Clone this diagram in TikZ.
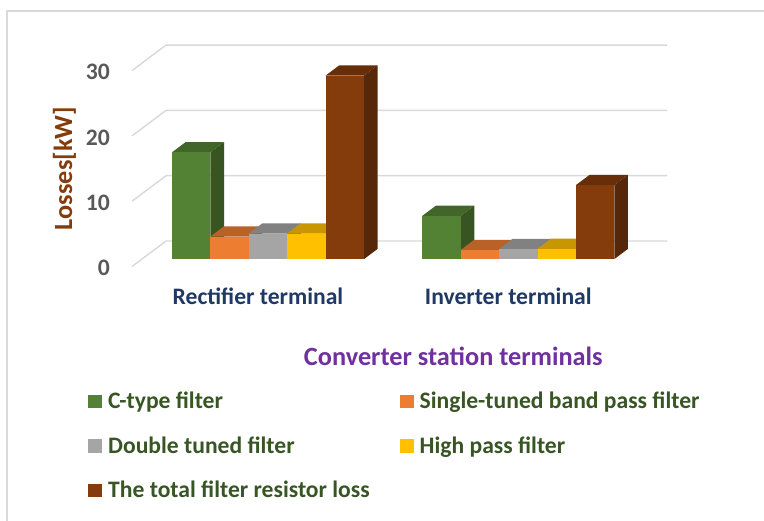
\documentclass[tikz,border=0pt]{standalone}
\usepackage{fontspec}
\setmainfont{Carlito}
\definecolor{cGreen}{HTML}{548235}
\definecolor{cOrange}{HTML}{ED7D31}
\definecolor{cGray}{HTML}{A5A5A5}
\definecolor{cYellow}{HTML}{FFC000}
\definecolor{cBrown}{HTML}{843C0C}
\definecolor{gridc}{HTML}{D9D9D9}
\definecolor{tickc}{HTML}{595959}
\definecolor{legc}{HTML}{375623}
\definecolor{catc}{HTML}{1F3864}
\definecolor{titc}{HTML}{7030A0}

% 3D column: #1 = base x (front plane), #2 = value, #3 = colour
\newcommand\drawcolumn[3]{%
  \pgfmathsetmacro\xa{#1+9.9}%
  \pgfmathsetmacro\xb{#1+38.4+9.9}%
  \pgfmathsetmacro\xc{#1+38.4+23.5}%
  \pgfmathsetmacro\xd{#1+23.5}%
  \pgfmathsetmacro\ytf{259.1-6.53*#2}%
  \pgfmathsetmacro\ytb{248.9-6.53*#2}%
  \fill[#3!65!black] (\xb,259.1) -- (\xc,248.9) -- (\xc,\ytb) -- (\xb,\ytf) -- cycle;
  \fill[#3!78!black] (\xa,\ytf) -- (\xb,\ytf) -- (\xc,\ytb) -- (\xd,\ytb) -- cycle;
  \fill[#3] (\xa,259.1) rectangle (\xb,\ytf);
}

\begin{document}
\begin{tikzpicture}[x=1bp,y=-1bp,
  grid/.style={draw=gridc,line width=1.4bp},
  txt/.style={font=\fontsize{23.7}{28}\selectfont\bfseries,inner sep=0pt},
  big/.style={font=\fontsize{26.4}{31}\selectfont\bfseries,inner sep=0pt},
  tick/.style={txt,text=tickc,anchor=base east},
  cat/.style={txt,text=catc,anchor=base},
  legtext/.style={txt,text=legc,anchor=base west},
  legbox/.style={minimum size=13.5bp,inner sep=0pt,anchor=south west}]
\useasboundingbox (0,0) rectangle (764,521);
\fill[white] (0,0) rectangle (764,521);
% chart frame
\draw[draw=gridc,line width=1.2bp] (7,530) -- (7,11) -- (780,11);

% back wall gridlines and floor diagonals
\foreach \k in {0,1,2,3} {
  \draw[grid] (132,266.5-65.3*\k) -- (166,241-65.3*\k) -- (667,241-65.3*\k);
}

% columns
\drawcolumn{162.1}{16.35}{cGreen}
\drawcolumn{200.5}{3.46}{cOrange}
\drawcolumn{238.9}{3.92}{cGray}
\drawcolumn{277.3}{3.92}{cYellow}
\drawcolumn{315.7}{28.1}{cBrown}

\drawcolumn{412.4}{6.62}{cGreen}
\drawcolumn{450.8}{1.4}{cOrange}
\drawcolumn{489.2}{1.54}{cGray}
\drawcolumn{527.6}{1.56}{cYellow}
\drawcolumn{566.0}{11.33}{cBrown}

% value axis
\node[tick] (t0) at (110,275.8) {0};
\node[tick] (t10) at (110,210.5) {10};
\node[tick] (t20) at (110,145.2) {20};
\node[tick] (t30) at (110,79.9) {30};
\node[big,text=cBrown,rotate=90,anchor=base] (ytitle) at (72,168.5) {Losses[kW]};

% category axis
\node[cat] (rect) at (258,305) {Rectifier terminal};
\node[cat] (inv) at (508.3,305) {Inverter terminal};
\node[big,text=titc,anchor=base] (xtitle) at (453.3,365) {Converter station terminals};

% legend
\node[legbox,fill=cGreen] (m1) at (88,408.5) {};
\node[legtext] (l1) at (108,408.5) {C-type filter};
\node[legbox,fill=cOrange] (m2) at (400,408.5) {};
\node[legtext] (l2) at (419.5,408.5) {Single-tuned band pass filter};
\node[legbox,fill=cGray] (m3) at (88,453) {};
\node[legtext] (l3) at (108,453) {Double tuned filter};
\node[legbox,fill=cYellow] (m4) at (400,453) {};
\node[legtext] (l4) at (419.5,453) {High pass filter};
\node[legbox,fill=cBrown] (m5) at (88,497.5) {};
\node[legtext] (l5) at (108,497.5) {The total filter resistor loss};
\end{tikzpicture}
\end{document}
